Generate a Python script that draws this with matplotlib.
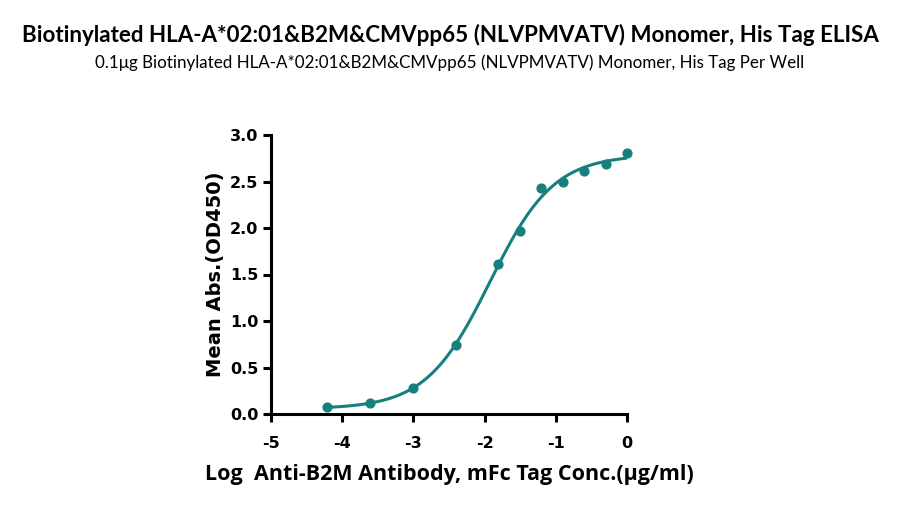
import numpy as np
import matplotlib
matplotlib.use("Agg")
import matplotlib.pyplot as plt

# Data
log_conc = [-4.214, -3.612, -3.010, -2.408, -1.806, -1.505, -1.204, -0.903, -0.602, -0.301, 0.0]
od450 = [0.072, 0.118, 0.275, 0.747, 1.615, 1.965, 2.426, 2.497, 2.615, 2.683, 2.808]
x_ticks = [-5, -4, -3, -2, -1, 0]
y_ticks = [0.0, 0.5, 1.0, 1.5, 2.0, 2.5, 3.0]

title = "Biotinylated HLA-A*02:01&B2M&CMVpp65 (NLVPMVATV) Monomer, His Tag ELISA"
subtitle = "0.1\u03bcg Biotinylated HLA-A*02:01&B2M&CMVpp65 (NLVPMVATV) Monomer, His Tag Per Well"
xlabel = "Log  Anti-B2M Antibody, mFc Tag Conc.(\u03bcg/ml)"
ylabel = "Mean Abs.(OD450)"

color = "#17807e"

x = np.array(log_conc)
y = np.array(od450)

# 4PL fit via Gauss-Newton
def f(p, xx):
    b, t, c, h = p
    return b + (t - b) / (1 + 10 ** ((c - xx) * h))

p = np.array([0.05, 2.8, -1.95, 1.0])
for _ in range(200):
    r = y - f(p, x)
    J = np.zeros((len(x), 4))
    for i in range(4):
        dp = np.zeros(4); dp[i] = 1e-6
        J[:, i] = (f(p + dp, x) - f(p - dp, x)) / 2e-6
    step, *_ = np.linalg.lstsq(J, r, rcond=None)
    p = p + 0.5 * step

fig = plt.figure(figsize=(9, 5.07), dpi=100)
ax = fig.add_axes([271 / 900, 1 - 414 / 507, (627 - 271) / 900, (414 - 135) / 507])

xx = np.linspace(x.min(), x.max(), 300)
ax.plot(xx, f(p, xx), color=color, lw=2.2, zorder=2)
ax.scatter(x, y, s=40, color=color, zorder=3, clip_on=False)

ax.set_xlim(-5, 0)
ax.set_ylim(0, 3.0)
ax.set_xticks(x_ticks)
ax.set_xticklabels([str(v) for v in x_ticks])
ax.set_yticks(y_ticks)
ax.set_yticklabels([f"{v:.1f}" for v in y_ticks])
for s in ["top", "right"]:
    ax.spines[s].set_visible(False)
for s in ["left", "bottom"]:
    ax.spines[s].set_linewidth(2.2)
ax.tick_params(width=2.2, length=6, direction="out", labelsize=11.5)
ax.tick_params(axis="x", pad=10)
ax.tick_params(axis="y", pad=3)
for lab in ax.get_xticklabels() + ax.get_yticklabels():
    lab.set_fontweight("bold")
    lab.set_family("DejaVu Sans")

ax.set_ylabel(ylabel, fontsize=14, fontweight="bold", family="DejaVu Sans", labelpad=4)
ax.set_xlabel(xlabel, fontsize=15.5, fontweight="bold", family="Open Sans", labelpad=9)

fig.text(0.5, 1 - 35 / 507, title, ha="center", va="center", fontsize=16.1, fontweight="bold", family="Lato")
fig.text(0.5, 1 - 63 / 507, subtitle, ha="center", va="center", fontsize=12.25, family="Lato")

fig.savefig("out.png", dpi=100)
